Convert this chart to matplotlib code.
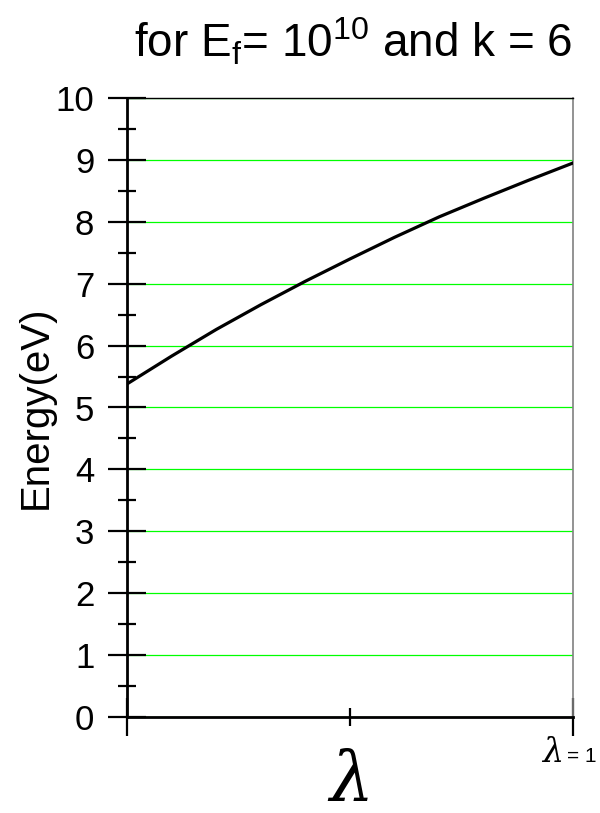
import numpy as np
import matplotlib.pyplot as plt
from matplotlib.ticker import FixedLocator

plt.rcParams['font.family'] = ['Liberation Sans', 'DejaVu Sans']

# curve
lam = [0.0, 0.1, 0.2, 0.3, 0.4, 0.5, 0.6, 0.7, 0.8, 0.9, 1.0]
energy = [5.38, 5.83, 6.26, 6.66, 7.04, 7.40, 7.75, 8.08, 8.38, 8.67, 8.95]

y_ticks = list(range(0, 11))
x_ticks = [0, 1]

fig = plt.figure(figsize=(6, 8.13), dpi=100)
ax = fig.add_axes([127/600, 1 - 717/813, 446/600, 619/813])

ax.plot(lam, energy, color='black', lw=2.3, zorder=3)

ax.set_xlim(0, 1)
ax.set_ylim(0, 10)

ax.set_yticks(y_ticks)
ax.yaxis.set_minor_locator(FixedLocator(np.arange(0.5, 10, 1)))
ax.set_xticks(x_ticks)
ax.set_xticklabels(['', ''])
ax.xaxis.set_minor_locator(FixedLocator([0.5]))

ax.tick_params(axis='y', which='major', direction='inout', length=27, width=1.6,
               labelsize=25, pad=10)
ax.tick_params(axis='y', which='minor', direction='inout', length=13, width=1.6)
ax.tick_params(axis='x', which='major', direction='inout', length=27, width=1.6)
ax.tick_params(axis='x', which='minor', direction='inout', length=13, width=1.6)

# "λ = 1" under the right end of the x axis
xt = ax.get_xaxis_transform()
ax.annotate('λ', xy=(1, 0), xycoords=xt, xytext=(-31, -52), textcoords='offset pixels',
            fontsize=24, family='DejaVu Serif', style='italic',
            ha='left', va='bottom', annotation_clip=False)
ax.annotate('= 1', xy=(1, 0), xycoords=xt, xytext=(-6, -45), textcoords='offset pixels',
            fontsize=15, ha='left', va='baseline', annotation_clip=False)

ax.grid(axis='y', color='#00ff00', lw=0.9)
ax.set_axisbelow(True)

ax.spines['left'].set_linewidth(2)
ax.spines['bottom'].set_linewidth(2)
ax.spines['top'].set_linewidth(1)
ax.spines['right'].set_linewidth(1.2)
ax.spines['right'].set_color('#808080')

ax.set_ylabel('Energy(eV)', fontsize=29)
ax.yaxis.set_label_coords(-0.163, 0.5)

fig.text(351/600, 1 - 782/813, 'λ', fontsize=50, ha='center', va='center',
         family='DejaVu Serif', style='italic')

fig.text(353/600, 1 - 42/813,
         r'for E$_\mathregular{f}$= 10$^\mathregular{10}$ and k = 6',
         fontsize=33, ha='center', va='center')

fig.savefig('out.png', dpi=100)
